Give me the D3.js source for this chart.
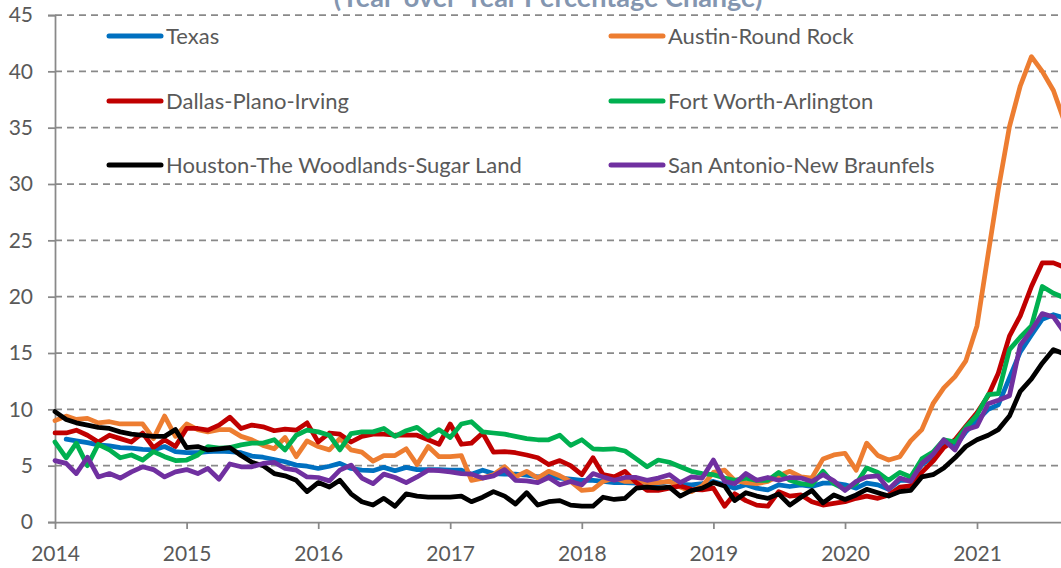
<!DOCTYPE html>
<html>
<head>
<meta charset="utf-8">
<script src="https://cdn.jsdelivr.net/npm/d3@7"></script>
<style>
  html, body { margin: 0; padding: 0; background: #ffffff; }
  svg { display: block; }
  text { font-family: Lato, "Noto Sans", sans-serif; }
</style>
</head>
<body>
<svg id="chart" width="1061" height="568"></svg>
<script>
// Monthly house price change, Jan 2014 onward (year-over-year %)
const startMonth = new Date(2014, 0, 1);
const endMonth = new Date(2021, 9, 1); // exclusive
const months = d3.timeMonth.range(startMonth, endMonth);

const seriesNames = [
  "Texas",
  "Austin-Round Rock",
  "Dallas-Plano-Irving",
  "Fort Worth-Arlington",
  "Houston-The Woodlands-Sugar Land",
  "San Antonio-New Braunfels"
];
const seriesColors = ["#0070C0", "#ED7D31", "#C00000", "#00B050", "#000000", "#7030A0"];

const texas = [null,
  7.35, 7.2, 7.05, 6.85, 6.75, 6.6, 6.55, 6.45, 6.4, 6.7, 6.25,
  6.15, 6.15, 6.25, 6.3, 6.25, 6.15, 5.85, 5.75, 5.55, 5.35, 5.05, 4.95,
  4.75, 4.95, 5.2, 4.75, 4.6, 4.55, 4.85, 4.55, 4.85, 4.65, 4.65, 4.65,
  4.6, 4.6, 4.25, 4.6, 4.3, 4.25, 4.25, 4.15, 4.0, 4.1, 3.9, 3.8,
  3.7, 3.7, 3.6, 3.5, 3.5, 3.45, 3.3, 3.4, 3.6, 3.35, 3.3, 3.4,
  3.6, 3.3, 3.0, 3.3, 3.0, 2.85, 3.3, 3.15, 3.3, 3.15, 3.45, 3.45,
  3.3, 3.0, 3.45, 3.3, 2.9, 3.7, 3.7, 5.1, 5.8, 7.0, 6.7, 8.0,
  9.0, 10.0, 10.4, 12.8, 15.1, 16.6, 18.0, 18.4, 18.1];

const austin = [
  9.0, 9.4, 9.1, 9.2, 8.8, 8.9, 8.7, 8.7, 8.7, 7.4, 9.4, 7.6,
  8.7, 8.2, 8.0, 8.2, 8.2, 7.6, 7.3, 6.8, 6.5, 7.5, 5.8, 7.2,
  6.7, 6.4, 7.4, 6.4, 6.2, 5.4, 5.9, 5.9, 6.5, 5.1, 6.7, 5.8,
  5.8, 5.9, 3.7, 3.9, 4.2, 4.9, 4.0, 4.5, 3.9, 4.5, 4.1, 3.6,
  2.8, 2.9, 3.6, 3.9, 3.6, 3.6, 3.5, 3.5, 3.6, 3.1, 2.7, 3.2,
  4.4, 4.6, 3.7, 3.5, 3.4, 3.6, 4.1, 4.5, 4.0, 3.9, 5.6, 5.95,
  6.1, 4.6, 7.0, 5.9, 5.5, 5.8, 7.2, 8.2, 10.5, 11.9, 12.9, 14.3,
  17.4, 23.8, 29.5, 35.1, 38.7, 41.3, 40.0, 38.3, 35.5];

const dallas = [
  7.9, 7.9, 8.15, 7.7, 7.1, 7.7, 7.4, 7.1, 7.9, 6.6, 7.3, 6.7,
  8.3, 8.3, 8.15, 8.6, 9.3, 8.3, 8.6, 8.45, 8.1, 8.25, 8.15, 8.8,
  7.1, 7.9, 7.8, 7.1, 7.6, 7.8, 7.8, 7.7, 7.7, 7.7, 7.3, 6.9,
  8.7, 6.9, 7.0, 7.9, 6.2, 6.25, 6.15, 5.95, 5.7, 5.1, 5.45, 5.0,
  4.2, 5.7, 4.2, 4.0, 4.5, 3.5, 2.8, 2.8, 3.0, 3.2, 2.9, 2.85,
  3.0, 1.4, 2.5, 1.9, 1.5, 1.4, 2.7, 2.3, 2.4, 1.8, 1.5, 1.65,
  1.8, 2.1, 2.3, 2.1, 2.4, 3.1, 3.2, 4.4, 5.4, 6.6, 7.3, 8.5,
  9.7, 11.2, 13.2, 16.5, 18.3, 20.9, 23.0, 23.0, 22.6];

const fortWorth = [
  7.1, 5.7, 7.0, 5.0, 6.9, 6.4, 5.7, 5.95, 5.5, 6.25, 5.8, 5.45,
  5.5, 5.95, 6.7, 6.55, 6.6, 6.85, 7.0, 7.0, 7.3, 6.4, 7.7, 8.15,
  8.0, 7.7, 6.4, 7.85, 8.0, 8.0, 8.3, 7.6, 8.1, 8.4, 7.6, 8.2,
  7.5, 8.7, 8.9, 8.0, 7.9, 7.8, 7.6, 7.4, 7.3, 7.3, 7.7, 6.8,
  7.3, 6.5, 6.45, 6.5, 6.3, 5.6, 4.9, 5.5, 5.3, 4.9, 4.5, 4.3,
  4.2, 3.9, 3.7, 3.9, 3.7, 3.7, 4.4, 3.7, 3.4, 3.3, 4.5, 3.4,
  2.9, 3.4, 4.8, 4.4, 3.7, 4.4, 4.0, 5.6, 6.2, 7.3, 7.1, 8.4,
  9.5, 11.3, 11.4, 15.3, 16.4, 17.4, 20.9, 20.3, 19.9];

const houston = [
  9.8, 9.1, 8.8, 8.6, 8.4, 8.3, 8.0, 7.8, 7.7, 7.6, 7.6, 8.2,
  6.6, 6.7, 6.4, 6.5, 6.6, 5.9, 5.3, 5.0, 4.3, 4.1, 3.7, 2.7,
  3.5, 3.1, 3.7, 2.5, 1.8, 1.5, 2.1, 1.4, 2.5, 2.3, 2.2, 2.2,
  2.2, 2.3, 1.8, 2.2, 2.7, 2.3, 1.6, 2.6, 1.5, 1.8, 1.9, 1.5,
  1.4, 1.4, 2.2, 2.0, 2.1, 3.0, 3.1, 3.0, 3.1, 2.3, 2.8, 3.0,
  3.5, 3.2, 1.9, 2.6, 2.3, 2.1, 2.5, 1.5, 2.2, 2.8, 1.7, 2.4,
  2.0, 2.4, 2.9, 2.6, 2.3, 2.7, 2.8, 4.0, 4.2, 4.8, 5.7, 6.7,
  7.3, 7.7, 8.2, 9.4, 11.6, 12.7, 14.1, 15.3, 14.9];

const sanAntonio = [
  5.45, 5.2, 4.3, 5.75, 4.0, 4.3, 3.9, 4.45, 4.9, 4.65, 4.0, 4.45,
  4.65, 4.3, 4.75, 3.8, 5.15, 4.9, 4.9, 5.2, 5.3, 4.75, 4.6, 4.0,
  3.95, 3.65, 4.6, 5.05, 3.9, 3.4, 4.25, 3.95, 3.5, 4.0, 4.6, 4.55,
  4.45, 4.3, 4.25, 3.9, 4.1, 4.65, 3.7, 3.65, 3.5, 3.95, 3.3, 3.6,
  3.3, 4.3, 4.0, 3.7, 3.95, 3.95, 3.7, 3.9, 4.2, 3.5, 4.0, 3.9,
  5.5, 3.6, 3.4, 4.3, 3.7, 3.95, 3.7, 3.95, 3.9, 3.6, 4.2, 3.65,
  2.8, 3.6, 4.0, 4.1, 2.9, 3.9, 3.6, 5.2, 6.0, 7.3, 6.4, 8.2,
  8.5, 10.5, 10.8, 11.2, 15.7, 17.0, 18.5, 18.2, 16.8];

const seriesValues = [texas, austin, dallas, fortWorth, houston, sanAntonio];

const yTicks = [0, 5, 10, 15, 20, 25, 30, 35, 40, 45];
const xTickYears = [2014, 2015, 2016, 2017, 2018, 2019, 2020, 2021];
const titleText = "(Year-over-Year Percentage Change)";

// ---- layout ----
const svg = d3.select("#chart");
const W = 1061, H = 568;
const plot = { left: 55, top: 15, bottom: 522 };

const x = d3.scaleTime()
  .domain([new Date(2014, 0, 1), new Date(2021, 0, 1)])
  .range([plot.left, 977]);
const y = d3.scaleLinear().domain([0, 45]).range([plot.bottom, plot.top]);

const axisGray = "#898989";
const labelGray = "#595959";

// dashed horizontal gridlines
svg.append("g")
  .selectAll("line")
  .data(yTicks.filter(d => d > 0))
  .join("line")
  .attr("x1", plot.left)
  .attr("x2", W)
  .attr("y1", d => y(d))
  .attr("y2", d => y(d))
  .attr("stroke", axisGray)
  .attr("stroke-width", 1.75)
  .attr("stroke-dasharray", "7,5");

// title (runs past the top edge of the frame)
svg.append("text")
  .attr("x", 548)
  .attr("y", 7)
  .attr("text-anchor", "middle")
  .attr("font-size", 27)
  .attr("font-weight", 700)
  .attr("fill", "#8496B0")
  .text(titleText);

// y axis
const yAxis = svg.append("g")
  .attr("transform", `translate(${plot.left},0)`)
  .call(d3.axisLeft(y).tickValues(yTicks).tickSize(7).tickPadding(15));
yAxis.select(".domain").attr("stroke", axisGray).attr("stroke-width", 1.75);
yAxis.selectAll(".tick line").attr("stroke", axisGray).attr("stroke-width", 1.75);
yAxis.selectAll(".tick text")
  .attr("fill", labelGray)
  .attr("font-size", 21)
  .attr("font-family", "Lato, sans-serif");

// x axis
const xAxis = svg.append("g")
  .attr("transform", `translate(0,${plot.bottom})`)
  .call(d3.axisBottom(x)
    .tickValues(xTickYears.map(yr => new Date(yr, 0, 1)))
    .tickFormat(d3.timeFormat("%Y"))
    .tickSize(7)
    .tickPadding(17)
    .tickSizeOuter(0));
xAxis.select(".domain")
  .attr("d", `M${plot.left},0.5H${W}`)
  .attr("stroke", axisGray).attr("stroke-width", 1.75);
xAxis.selectAll(".tick line").attr("stroke", axisGray).attr("stroke-width", 1.75);
xAxis.selectAll(".tick text")
  .attr("fill", labelGray)
  .attr("font-size", 21)
  .attr("font-family", "Lato, sans-serif");

// series lines
const line = d3.line()
  .defined(d => d.v != null)
  .x(d => x(d.date))
  .y(d => y(d.v));

svg.append("g")
  .selectAll("path")
  .data(seriesValues.map((vals, i) => ({
    name: seriesNames[i],
    color: seriesColors[i],
    pts: vals.map((v, j) => ({ date: months[j], v }))
  })))
  .join("path")
  .attr("d", d => line(d.pts))
  .attr("fill", "none")
  .attr("stroke", d => d.color)
  .attr("stroke-width", 4.75)
  .attr("stroke-linejoin", "round")
  .attr("stroke-linecap", "round");

// legend: two columns, three rows
const legendCols = [107, 609];
const legendRows = [36, 101, 165];
const legend = svg.append("g")
  .selectAll("g")
  .data(seriesNames.map((name, i) => ({ name, color: seriesColors[i], i })))
  .join("g")
  .attr("transform", d => `translate(${legendCols[d.i % 2]},${legendRows[Math.floor(d.i / 2)]})`);
legend.append("line")
  .attr("x1", 2).attr("x2", 54)
  .attr("stroke", d => d.color)
  .attr("stroke-width", 5)
  .attr("stroke-linecap", "round");
legend.append("text")
  .attr("x", 59)
  .attr("dy", "0.36em")
  .attr("font-size", 22)
  .attr("fill", labelGray)
  .text(d => d.name);
</script>
</body>
</html>
